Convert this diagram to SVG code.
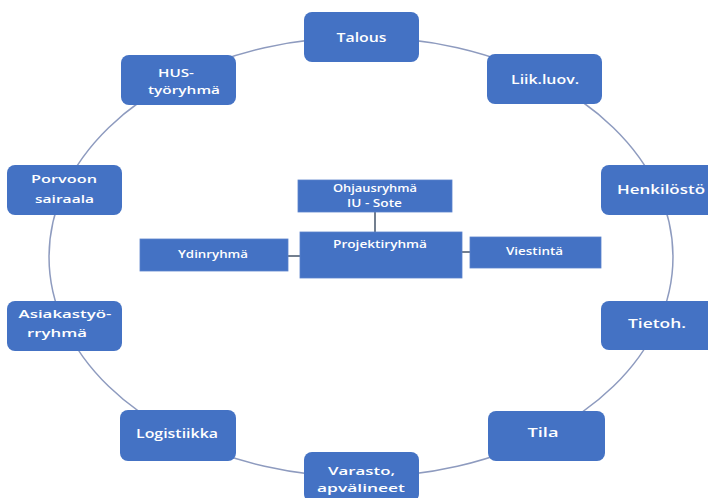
<svg xmlns="http://www.w3.org/2000/svg" width="708" height="498" viewBox="0 0 708 498">
<defs>
<style>
.bg{fill:#ffffff}
.arc{fill:none;stroke:#8e9bbf;stroke-width:1.5}
.link{fill:none;stroke:#44546a;stroke-width:1.5}
.node{fill:#4472c4}
.cnode{fill:#4472c4;stroke:#5b82cc;stroke-width:0.8}
.t{fill:#ffffff;font-family:"Open Sans","Liberation Sans",sans-serif;font-size:12.5px;font-weight:600;text-anchor:middle}
.t2{fill:#ffffff;font-family:"Open Sans","Liberation Sans",sans-serif;font-size:11.5px;font-weight:600;text-anchor:middle}
.ct{fill:#ffffff;font-family:"Open Sans","Liberation Sans",sans-serif;font-size:10px;font-weight:600;text-anchor:middle}
</style>
</defs>
<rect class="bg" x="0" y="0" width="708" height="498"/>
<g id="connectors">
<path class="arc" d="M361 37 A312 220 0 0 1 544.4 79"/>
<path class="arc" d="M544.4 79 A312 220 0 0 1 657.7 189"/>
<path class="arc" d="M657.7 189 A312 220 0 0 1 657.7 325"/>
<path class="arc" d="M657.7 325 A312 220 0 0 1 544.4 435"/>
<path class="arc" d="M544.4 435 A312 220 0 0 1 361 477"/>
<path class="arc" d="M361 477 A312 220 0 0 1 177.6 435"/>
<path class="arc" d="M177.6 435 A312 220 0 0 1 64.3 325"/>
<path class="arc" d="M64.3 325 A312 220 0 0 1 64.3 189"/>
<path class="arc" d="M64.3 189 A312 220 0 0 1 177.6 79"/>
<path class="arc" d="M177.6 79 A312 220 0 0 1 361 37"/>
<path class="link" d="M375 212 V232"/>
<path class="link" d="M288 256 H300"/>
<path class="link" d="M462 252 H470"/>
</g>
<g id="talous"><rect class="node" x="304" y="12" width="115" height="50" rx="8"/><text class="t" x="361.5" y="42" textLength="50" lengthAdjust="spacingAndGlyphs">Talous</text></g>
<g id="liik"><rect class="node" x="487" y="54" width="115" height="50" rx="8"/><text class="t" x="545" y="84" textLength="68" lengthAdjust="spacingAndGlyphs">Liik.luov.</text></g>
<g id="henkilosto"><rect class="node" x="601" y="165" width="115" height="50" rx="8"/><text class="t" x="661" y="194" textLength="88" lengthAdjust="spacingAndGlyphs">Henkilöstö</text></g>
<g id="tietoh"><rect class="node" x="601" y="301" width="115" height="49" rx="8"/><text class="t" x="657" y="328" textLength="58" lengthAdjust="spacingAndGlyphs">Tietoh.</text></g>
<g id="tila"><rect class="node" x="488" y="411" width="117" height="50" rx="8"/><text class="t" x="543" y="437" textLength="31" lengthAdjust="spacingAndGlyphs">Tila</text></g>
<g id="varasto"><rect class="node" x="304" y="452" width="115" height="50" rx="8"/><text class="t2" x="361.5" y="475" textLength="67" lengthAdjust="spacingAndGlyphs">Varasto,</text><text class="t2" x="361" y="492" textLength="88" lengthAdjust="spacingAndGlyphs">apvälineet</text></g>
<g id="logistiikka"><rect class="node" x="120" y="410" width="116" height="51" rx="8"/><text class="t" x="177" y="438" textLength="82" lengthAdjust="spacingAndGlyphs">Logistiikka</text></g>
<g id="asiakas"><rect class="node" x="7" y="301" width="115" height="50" rx="8"/><text class="t2" x="65" y="318" textLength="93" lengthAdjust="spacingAndGlyphs">Asiakastyö-</text><text class="t2" x="57" y="337" textLength="60" lengthAdjust="spacingAndGlyphs">rryhmä</text></g>
<g id="porvoon"><rect class="node" x="7" y="165" width="115" height="50" rx="8"/><text class="t2" x="64" y="183" textLength="66" lengthAdjust="spacingAndGlyphs">Porvoon</text><text class="t2" x="64.5" y="203" textLength="59" lengthAdjust="spacingAndGlyphs">sairaala</text></g>
<g id="hus"><rect class="node" x="121" y="55" width="115" height="50" rx="8"/><text class="t2" x="176" y="77" textLength="36" lengthAdjust="spacingAndGlyphs">HUS-</text><text class="t2" x="184" y="94" textLength="72" lengthAdjust="spacingAndGlyphs">työryhmä</text></g>
<g id="ohjausryhma"><rect class="cnode" x="298" y="180" width="154" height="32"/><text class="ct" x="375" y="192" textLength="84" lengthAdjust="spacingAndGlyphs">Ohjausryhmä</text><text class="ct" x="374.5" y="207" textLength="55" lengthAdjust="spacingAndGlyphs">IU - Sote</text></g>
<g id="projektiryhma"><rect class="cnode" x="300" y="232" width="162" height="46"/><text class="ct" x="380" y="248" textLength="94" lengthAdjust="spacingAndGlyphs">Projektiryhmä</text></g>
<g id="ydinryhma"><rect class="cnode" x="140" y="239" width="148" height="32"/><text class="ct" x="213" y="258" textLength="70" lengthAdjust="spacingAndGlyphs">Ydinryhmä</text></g>
<g id="viestinta"><rect class="cnode" x="470" y="237" width="131" height="31"/><text class="ct" x="534.5" y="255" textLength="57" lengthAdjust="spacingAndGlyphs">Viestintä</text></g>
</svg>
